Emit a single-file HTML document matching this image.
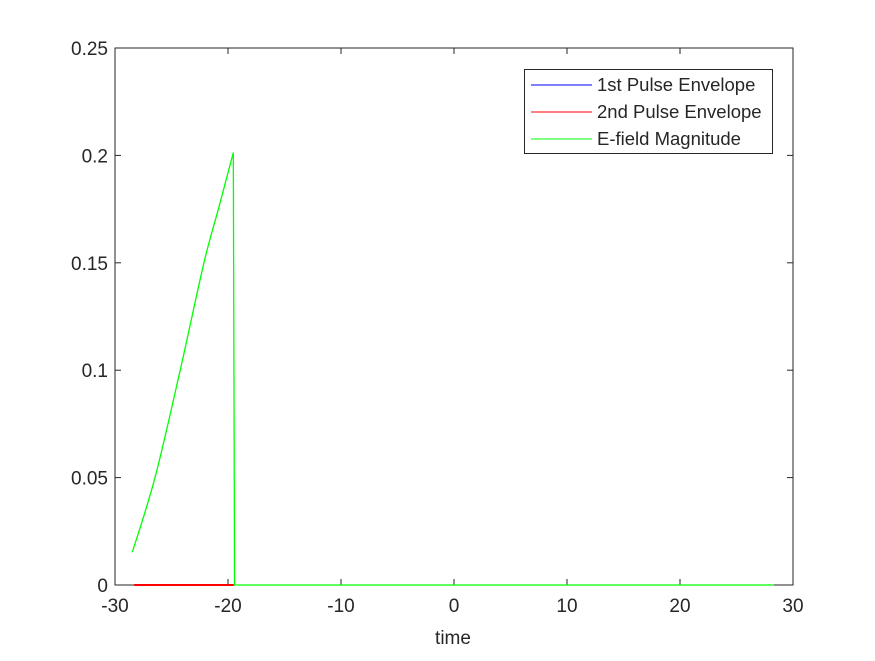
<!DOCTYPE html>
<html><head><meta charset="utf-8"><style>
body{margin:0;background:#fff;}
svg text{font-family:"Liberation Sans",sans-serif;fill:#262626;}
</style></head><body>
<svg width="875" height="656">
<rect width="875" height="656" fill="#fff"/>
<g id="plot"></g>
</svg>
<script>
const xTicks=[-30,-20,-10,0,10,20,30];
const yTicks=[0,0.05,0.1,0.15,0.2,0.25];
const yTickLabels=["0","0.05","0.1","0.15","0.2","0.25"];
const riseT=[-28.47,-26.46,-24.23,-22.13,-20.8,-19.53];
const riseV=[0.0152,0.05,0.1,0.15,0.176,0.2013];
const tailT=[-19.53,-19.42,28.3];
const tailV=[0.2013,0,0];
const pulse2T=[-28.3,-19.5];
const pulse2V=[0,0];
const X0=115,X1=793,Y0=585,Y1=48;
const sx=v=>X0+(v+30)/60*(X1-X0);
const sy=v=>Y0-(v/0.25)*(Y0-Y1);
const ns="http://www.w3.org/2000/svg";
const g=document.getElementById('plot');
function mk(t,a){const e=document.createElementNS(ns,t);for(const k in a)e.setAttribute(k,a[k]);g.appendChild(e);return e;}
const box=mk('rect',{x:X0,y:Y1,width:X1-X0,height:Y0-Y1,fill:'#fff',stroke:'#262626','stroke-width':1});


xTicks.forEach(t=>{const x=sx(t);
mk('line',{x1:x,x2:x,y1:Y0,y2:Y0-6,stroke:'#262626'});
mk('line',{x1:x,x2:x,y1:Y1,y2:Y1+6,stroke:'#262626'});
const tx=mk('text',{x:x,y:Y0+27,'text-anchor':'middle','font-size':19});tx.textContent=String(t);

});
yTicks.forEach((t,i)=>{const y=sy(t);
mk('line',{x1:X0,x2:X0+6,y1:y,y2:y,stroke:'#262626'});
mk('line',{x1:X1,x2:X1-6,y1:y,y2:y,stroke:'#262626'});
const tx=mk('text',{x:X0-7,y:y+7,'text-anchor':'end','font-size':19});tx.textContent=yTickLabels[i];

});
const xl=mk('text',{x:453,y:644,'text-anchor':'middle','font-size':19});xl.textContent='time';


const p2=mk('polyline',{points:pulse2T.map((t,i)=>sx(t)+','+sy(pulse2V[i])).join(' '),fill:'none',stroke:'#ff0000','stroke-width':2});


const pts=riseT.map((t,i)=>[sx(t),sy(riseV[i])]);
let d='M'+pts[0][0]+','+pts[0][1];
for(let i=0;i<pts.length-1;i++){
const p0=pts[Math.max(0,i-1)],p1=pts[i],p2p=pts[i+1],p3=pts[Math.min(pts.length-1,i+2)];
const c1=[p1[0]+(p2p[0]-p0[0])/6,p1[1]+(p2p[1]-p0[1])/6];
const c2=[p2p[0]-(p3[0]-p1[0])/6,p2p[1]-(p3[1]-p1[1])/6];
d+=' C'+c1[0]+','+c1[1]+' '+c2[0]+','+c2[1]+' '+p2p[0]+','+p2p[1];}
const ef=mk('path',{d:d,fill:'none',stroke:'#00ff00','stroke-width':1.3});


const ef2=mk('polyline',{points:tailT.map((t,i)=>sx(t)+','+sy(tailV[i])).join(' '),fill:'none',stroke:'#00ff00','stroke-width':1.3});


const lg=mk('rect',{x:524.5,y:69.5,width:248,height:84,fill:'#fff',stroke:'#262626'});


[['1st Pulse Envelope','#0000ff'],['2nd Pulse Envelope','#ff0000'],['E-field Magnitude','#00ff00']].forEach((e,i)=>{
const y=85+i*27;
mk('line',{x1:531,x2:592,y1:y,y2:y,stroke:e[1]});
const t=mk('text',{x:597,y:y+6,'font-size':18.5});t.textContent=e[0];

});
</script>
</body></html>
